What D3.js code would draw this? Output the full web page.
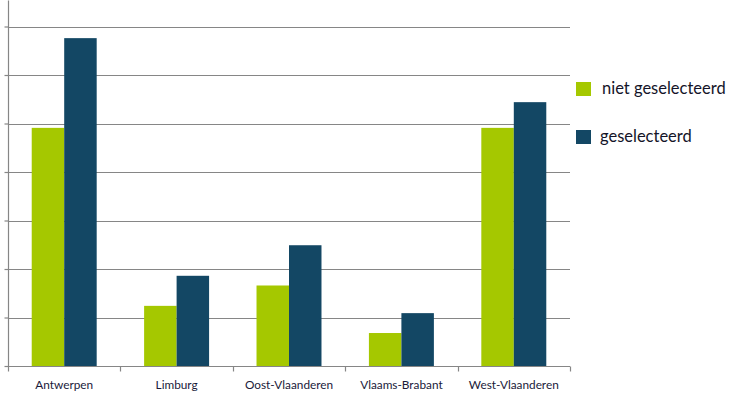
<!DOCTYPE html>
<html><head><meta charset="utf-8">
<script src="https://cdn.jsdelivr.net/npm/d3@7"></script>
<style>body{margin:0;background:#fff}svg{display:block}</style>
</head><body><svg id="c" width="743" height="402"></svg>
<script>
const categories = ["Antwerpen","Limburg","Oost-Vlaanderen","Vlaams-Brabant","West-Vlaanderen"];
const seriesNames = ["niet geselecteerd","geselecteerd"];
const nietGeselecteerd = [4.91, 1.24, 1.66, 0.68, 4.91];
const geselecteerd = [6.76, 1.86, 2.49, 1.09, 5.44];
const yTicks = [0,1,2,3,4,5,6,7];
const colors = ["#a5c800","#134764"];

const svg = d3.select("#c");
const m = {l:8, r:173, t:26.5, b:36};
const W = 743, H = 402;
const x = d3.scaleBand().domain(categories).range([m.l, W - m.r]).paddingInner(0).paddingOuter(0);
const y = d3.scaleLinear().domain([0,7]).range([H - m.b, m.t]);
const xs = d3.scaleBand().domain(seriesNames).range([0, x.bandwidth()]).paddingInner(0).paddingOuter(0.73);

// gridlines
svg.append("g").selectAll("line").data(yTicks.slice(1)).join("line")
  .attr("x1", m.l).attr("x2", W - m.r)
  .attr("y1", d => Math.round(y(d))+0.5).attr("y2", d => Math.round(y(d))+0.5)
  .attr("stroke","#868686").attr("stroke-width",1.2);

// bars
const data = categories.map((c,i)=>({c, vals:[nietGeselecteerd[i], geselecteerd[i]]}));
svg.append("g").selectAll("g").data(data).join("g")
  .attr("transform", d => `translate(${x(d.c)},0)`)
  .selectAll("rect").data(d => d.vals.map((v,j)=>({v, s:seriesNames[j], j})))
  .join("rect")
  .attr("x", d => xs(d.s)).attr("width", xs.bandwidth())
  .attr("y", d => y(d.v)).attr("height", d => y(0) - y(d.v))
  .attr("fill", d => colors[d.j]);

// y axis
const ya = svg.append("g").attr("transform", `translate(${m.l+0.5},0)`)
  .call(d3.axisLeft(y).tickValues(yTicks).tickSize(4).tickFormat(""));
ya.selectAll("line,path").attr("stroke","#868686").attr("stroke-width",1.2);
ya.select(".domain").attr("d", `M0,${y(7)-26}V${y(0)}`);

// x axis
const xa = svg.append("g").attr("transform", `translate(0,${Math.round(y(0))+0.5})`)
  .call(d3.axisBottom(x).tickSize(0).tickPadding(0));
xa.select(".domain").attr("stroke","#868686").attr("stroke-width",1.2).attr("d", `M${m.l},0H${W-m.r}`);
xa.selectAll("text").attr("dy", null).attr("y", 22)
  .attr("font-family","Lato, 'Open Sans', sans-serif").attr("font-size", 11.8).attr("fill","#1a1a3a");
const bounds = categories.map(c => x(c)).concat([W - m.r]);
xa.append("g").selectAll("line").data(bounds).join("line")
  .attr("x1", d => Math.round(d)+0.5).attr("x2", d => Math.round(d)+0.5)
  .attr("y1", 0).attr("y2", 5).attr("stroke","#868686").attr("stroke-width",1.2);

// legend
const lg = svg.append("g").selectAll("g").data(seriesNames).join("g")
  .attr("transform", (d,i) => `translate(576,${82 + i*48})`);
lg.append("rect").attr("width",15).attr("height",14).attr("fill",(d,i)=>colors[i]);
lg.append("text").attr("x", (d,i)=> i===0 ? 26 : 24).attr("y", 12)
  .attr("font-family","Lato, 'Open Sans', sans-serif").attr("font-size", 16.5).attr("fill","#141428")
  .text(d => d);
</script></body></html>
